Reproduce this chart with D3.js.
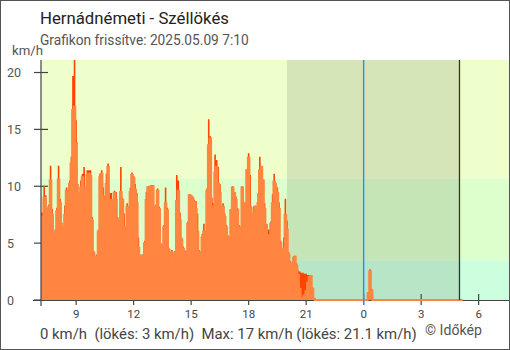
<!DOCTYPE html>
<html><head><meta charset="utf-8">
<script src="https://cdn.jsdelivr.net/npm/d3@7"></script>
<style>
body{margin:0;background:#fff}
svg{display:block;font-family:Roboto,"Noto Sans",sans-serif}
</style>
</head><body>
<svg id="chart" width="510" height="350"></svg>
<script>
// ---- data (5-minute samples starting 07:10 of the previous day) ----
const startHour = 7 + 10/60;
const stepMinutes = 5;
const windSpeed = [
7.3,7.3,9.0,8.0,6.2,8.2,10.5,7.5,4.1,6.0,
7.8,10.6,8.5,6.5,5.5,7.5,9.6,8.6,10.2,12.0,
16.7,17.0,13.8,9.4,8.8,9.9,10.8,9.9,7.5,11.0,
11.1,10.9,7.0,4.1,3.3,3.8,6.0,10.8,11.1,9.1,
7.3,10.2,11.7,8.5,8.8,8.2,9.4,8.8,7.0,6.4,
9.5,8.8,6.4,4.3,8.2,7.0,9.5,11.0,10.7,9.7,
8.5,4.6,3.6,3.9,3.8,5.0,8.8,9.9,9.9,10.0,
10.0,6.0,8.2,9.6,8.0,4.8,3.5,6.4,8.5,7.9,
4.4,3.0,4.2,3.5,4.1,8.7,9.6,7.0,5.3,4.5,
4.2,4.1,6.7,9.2,9.1,8.9,8.6,8.0,6.0,4.2,
3.9,5.5,6.0,5.2,9.6,13.6,14.2,6.5,8.2,11.2,
11.7,10.2,9.4,8.0,8.2,7.3,6.4,5.5,5.3,7.9,
9.9,9.4,8.8,7.9,6.4,5.8,9.9,8.5,8.2,11.4,
12.5,8.2,6.3,7.6,8.2,6.7,8.5,11.4,11.7,10.5,
8.0,6.6,5.7,5.7,6.7,8.5,10.4,9.9,9.4,8.0,
5.0,3.9,4.5,7.5,6.2,4.0,3.2,2.9,3.3,3.8,
3.0,2.2,1.0,0.2,0.1,0.4,0.8,1.5,2.0,2.1,
1.0,0.1,0,0,0,0,0,0,0,0,
0,0,0,0,0,0,0,0,0,0,
0,0,0,0,0,0,0,0,0,0,
0,0,0,0,0,0.6,2.5,0.8,0,0,
0,0,0,0,0,0,0,0,0,0,
0,0,0,0,0,0,0,0,0,0,
0,0,0,0,0,0,0,0,0,0,
0,0,0,0,0,0,0,0,0,0,
0,0,0,0,0,0,0,0,0,0,
0,0,0,0,0
];
const gust = [
7.7,7.7,10.0,9.2,6.5,8.4,11.8,8.0,4.3,6.2,
8.1,11.8,8.9,6.8,5.8,8.3,9.9,9.0,10.5,12.6,
19.7,21.1,15.8,10.2,9.4,10.5,11.1,11.7,8.2,11.4,
11.4,11.4,7.3,4.3,3.5,4.0,6.2,11.1,11.4,9.9,
7.6,11.1,12.0,9.4,9.4,8.5,9.6,9.5,7.3,6.7,
11.7,9.0,7.6,4.5,8.5,7.3,9.9,11.2,10.9,10.2,
9.4,5.5,3.8,4.0,4.0,5.2,9.5,10.0,10.0,10.1,
10.1,6.2,8.4,9.8,8.2,5.0,3.7,6.6,9.9,8.1,
4.6,3.2,4.4,3.7,4.3,11.0,10.5,7.7,5.5,4.7,
4.4,4.3,6.9,9.3,9.2,9.1,8.8,8.7,7.6,4.4,
4.1,5.8,6.7,5.5,9.8,15.9,14.4,9.0,8.5,12.8,
12.3,11.7,10.2,8.2,8.5,7.6,6.6,5.7,5.5,8.0,
10.0,9.5,9.1,8.1,6.6,6.0,10.0,8.6,8.4,11.5,
12.9,11.0,6.5,8.2,8.3,7.9,9.4,12.6,11.8,10.6,
8.5,6.7,6.2,6.2,6.9,9.3,11.1,10.3,9.9,8.6,
5.2,4.1,5.5,8.9,7.0,4.2,3.4,3.1,3.8,3.9,
3.2,2.6,2.5,2.4,2.4,2.3,2.3,2.2,2.2,2.2,
1.1,0.1,0,0,0,0,0,0,0,0,
0,0,0,0,0,0,0,0,0,0,
0,0,0,0,0,0,0,0,0,0,
0,0,0,0,0,0.7,2.7,1.0,0,0,
0,0,0,0,0,0,0,0,0,0,
0,0,0,0,0,0,0,0,0,0,
0,0,0,0,0,0,0,0,0,0,
0,0,0,0,0,0,0,0,0,0,
0,0,0,0,0,0,0,0,0,0,
0,0,0,0,0
];
const yTicks = [0, 5, 10, 15, 20];
const xTickHours = [9, 12, 15, 18, 21, 24, 27, 30];
const xTickLabels = ["9", "12", "15", "18", "21", "0", "3", "6"];
const bandLimits = [0, 3.5, 10.7, 21.1];
const bandColors = ["#ccffdd", "#ddffcc", "#eeffcc"];
const nightStart = 20, nightEnd = 29, midnightHour = 24, markerHour = 29;
const titleText = "Hernádnémeti - Széllökés";
const subtitleText = "Grafikon frissítve: 2025.05.09 7:10";
const footerText = "0 km/h  (lökés: 3 km/h)  Max: 17 km/h (lökés: 21.1 km/h)";
const creditText = "© Időkép";

// ---- layout ----
const L = 41, R = 509, T = 60, B = 300;
const svg = d3.select("#chart");
const x = d3.scaleLinear().domain([startHour, 31 + 35/60]).range([L, R]);
const y = d3.scaleLinear().domain([0, 21.1]).range([B, T]);
const tOf = i => startHour + i * stepMinutes / 60;

function fit(sel, w) {
  const n = sel.node(); const cur = parseFloat(sel.attr("font-size"));
  const m = n.getComputedTextLength();
  if (m > 0) sel.attr("font-size", cur * w / m);
}

// bands
svg.append("g").selectAll("rect").data(bandColors).join("rect")
  .attr("x", L).attr("width", R - L)
  .attr("y", (d, i) => y(bandLimits[i + 1]))
  .attr("height", (d, i) => y(bandLimits[i]) - y(bandLimits[i + 1]))
  .attr("fill", d => d);

// night overlay
svg.append("rect").attr("x", x(nightStart)).attr("width", x(nightEnd) - x(nightStart))
  .attr("y", T).attr("height", B - T).attr("fill", "#000").attr("opacity", 0.1);

// ticks under data
svg.append("g").selectAll("line").data(xTickHours).join("line")
  .attr("x1", d => x(d)).attr("x2", d => x(d)).attr("y1", B - 6).attr("y2", B + 5)
  .attr("stroke", "#444").attr("stroke-width", 1.2);
svg.append("g").selectAll("line").data(yTicks).join("line")
  .attr("x1", L - 7).attr("x2", L + 7).attr("y1", d => y(d)).attr("y2", d => y(d))
  .attr("stroke", "#444").attr("stroke-width", 1.2);

// series
const area = d3.area().x((d, i) => x(tOf(i))).y0(y(0)).y1(d => y(d)).curve(d3.curveStep);
const line = d3.line().x((d, i) => x(tOf(i))).y(d => y(d)).curve(d3.curveStep);
svg.append("path").datum(gust).attr("d", area).attr("fill", "#ff4300");
svg.append("path").datum(windSpeed).attr("d", area).attr("fill", "#ff8540");

// axes lines
svg.append("line").attr("x1", L - 8).attr("x2", R).attr("y1", B + 0.5).attr("y2", B + 0.5)
  .attr("stroke", "#444").attr("stroke-width", 1.2);

svg.append("path").datum(windSpeed).attr("d", line).attr("fill", "none")
  .attr("stroke", "#ff8540").attr("stroke-width", 2);

// vertical markers
svg.append("line").attr("x1", x(midnightHour)).attr("x2", x(midnightHour))
  .attr("y1", T).attr("y2", B + 5).attr("stroke", "#1e90ff").attr("stroke-width", 1.4);
svg.append("line").attr("x1", x(markerHour)).attr("x2", x(markerHour))
  .attr("y1", T).attr("y2", B).attr("stroke", "#333").attr("stroke-width", 1.3);

svg.append("line").attr("x1", L).attr("x2", L).attr("y1", T).attr("y2", B + 6)
  .attr("stroke", "#444").attr("stroke-width", 1.2);

// tick labels
svg.append("g").selectAll("text").data(yTicks).join("text")
  .attr("x", 7).attr("y", d => y(d)).attr("dy", "0.36em")
  .attr("font-size", 12.5).attr("fill", "#555").text(d => d);
svg.append("g").selectAll("text").data(xTickHours).join("text")
  .attr("x", d => x(d)).attr("y", 318).attr("text-anchor", "middle")
  .attr("font-size", 11.5).attr("fill", "#444").text((d, i) => xTickLabels[i]);

// texts
fit(svg.append("text").attr("x", 40).attr("y", 24).attr("font-size", 17).attr("fill", "#222").text(titleText), 189);
fit(svg.append("text").attr("x", 40).attr("y", 45).attr("font-size", 13).attr("fill", "#555").text(subtitleText), 209);
fit(svg.append("text").attr("x", 12).attr("y", 55).attr("font-size", 13).attr("fill", "#555").text("km/h"), 31);
fit(svg.append("text").attr("x", 40).attr("y", 339).attr("font-size", 13).attr("fill", "#444")
  .style("white-space", "pre").text(footerText), 377);
fit(svg.append("text").attr("x", 425).attr("y", 335).attr("font-size", 11).attr("fill", "#555").text(creditText), 57);

// border
svg.append("rect").attr("x", 0.5).attr("y", 0.5).attr("width", 509).attr("height", 349)
  .attr("fill", "none").attr("stroke", "#555").attr("stroke-width", 1);
</script>
</body></html>
